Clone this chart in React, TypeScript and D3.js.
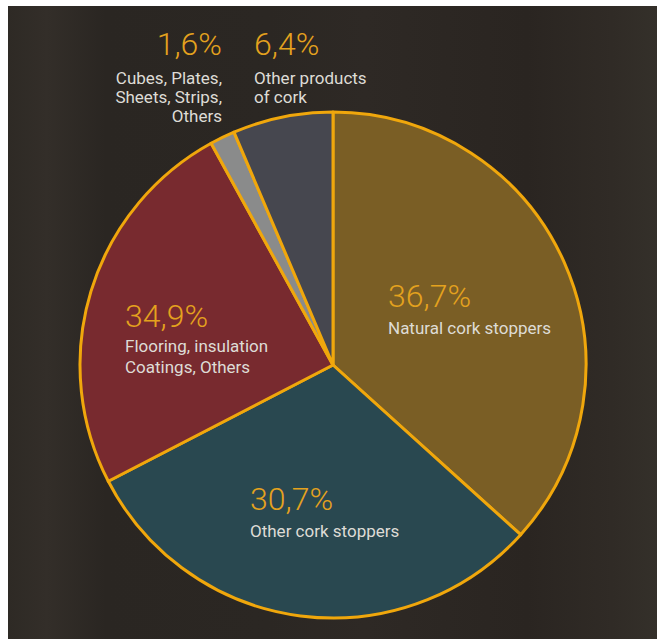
import React, { useEffect, useRef } from "react";
import * as d3 from "d3";

const categories = [
  "Natural cork stoppers",
  "Other cork stoppers",
  "Flooring, insulation Coatings, Others",
  "Cubes, Plates, Sheets, Strips, Others",
  "Other products of cork",
];
// arc sizes as drawn in the picture
const sliceValues = [36.7, 30.7, 24.6, 1.6, 6.4];
// percentages printed on the picture
const percentLabels = ["36,7%", "30,7%", "34,9%", "1,6%", "6,4%"];
const textLines = [
  ["Natural cork stoppers"],
  ["Other cork stoppers"],
  ["Flooring, insulation", "Coatings, Others"],
  ["Cubes, Plates,", "Sheets, Strips,", "Others"],
  ["Other products", "of cork"],
];
const sliceColors = ["#7a5e25", "#294850", "#782a2f", "#8a8b8b", "#46474f"];

const W = 657;
const H = 639;

export default function App() {
  const ref = useRef<SVGSVGElement>(null);

  useEffect(() => {
    const svg = d3.select(ref.current);
    svg.selectAll("*").remove();

    const defs = svg.append("defs");
    const g1 = defs
      .append("linearGradient")
      .attr("id", "bg")
      .attr("x1", "0")
      .attr("x2", "1")
      .attr("y1", "0")
      .attr("y2", "0");
    [
      [0, "#2e2a25"],
      [0.06, "#332e29"],
      [0.15, "#2a2622"],
      [0.4, "#2b2723"],
      [0.55, "#2e2925"],
      [0.8, "#2a2521"],
      [0.93, "#302b26"],
      [1, "#34302a"],
    ].forEach(([o, c]) =>
      g1.append("stop").attr("offset", o as number).attr("stop-color", c as string)
    );

    svg.append("rect").attr("width", W).attr("height", H).attr("fill", "#ffffff");
    svg
      .append("rect")
      .attr("x", 8)
      .attr("y", 6)
      .attr("width", W - 8)
      .attr("height", H - 6)
      .attr("fill", "url(#bg)");

    const cx = 333;
    const cy = 365;
    const r = 253;

    const pie = d3
      .pie<number>()
      .sort(null)
      .value((d) => d)
      .startAngle(0)
      .endAngle(2 * Math.PI);
    const arcs = pie(sliceValues);
    const arc = d3.arc<d3.PieArcDatum<number>>().innerRadius(0).outerRadius(r);

    const g = svg.append("g").attr("transform", `translate(${cx},${cy})`);
    g.selectAll("path")
      .data(arcs)
      .join("path")
      .attr("d", arc)
      .attr("fill", (_d, i) => sliceColors[i])
      .attr("stroke", "#f0a70c")
      .attr("stroke-width", 3)
      .attr("stroke-linejoin", "round");

    const font = "Roboto, 'Open Sans', sans-serif";
    const pctColor = "#e4a21e";
    const txtColor = "#dedcd6";

    // label anchors: [x, baselineOfPercent, anchor]
    const anchors: [number, number, string][] = [
      [388, 307, "start"],
      [250, 510, "start"],
      [125, 327, "start"],
      [222, 55, "end"],
      [254, 55, "start"],
    ];
    const lineGaps = [27, 27, 25, 29, 29];
    const lineStep = [20, 20, 21, 19, 19];

    anchors.forEach(([x, y, anchor], i) => {
      svg
        .append("text")
        .attr("x", x)
        .attr("y", y)
        .attr("text-anchor", anchor)
        .attr("font-family", font)
        .attr("font-weight", 300)
        .attr("font-size", 32)
        .attr("fill", pctColor)
        .text(percentLabels[i]);
      textLines[i].forEach((line, j) => {
        svg
          .append("text")
          .attr("x", x)
          .attr("y", y + lineGaps[i] + j * lineStep[i])
          .attr("text-anchor", anchor)
          .attr("font-family", font)
          .attr("font-weight", 400)
          .attr("font-size", 17)
          .attr("fill", txtColor)
          .text(line);
      });
    });
  }, []);

  return (
    <svg
      ref={ref}
      width={W}
      height={H}
      style={{ position: "absolute", left: 0, top: 0, display: "block" }}
    />
  );
}
